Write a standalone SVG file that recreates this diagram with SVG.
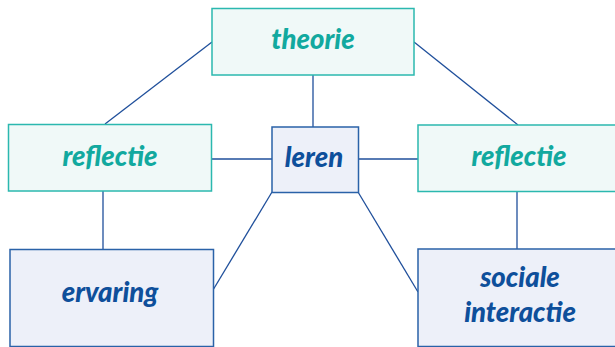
<svg xmlns="http://www.w3.org/2000/svg" width="615" height="347" viewBox="0 0 615 347">
<style>
.t{fill:#f0f9f8;stroke:#2bb8af;stroke-width:1.5}
.b{fill:#edf0f9;stroke:#2a62a8;stroke-width:1.5}
.tt{fill:#12a99f}
.bt{fill:#0e4f9b}
text{font-family:Lato,"Open Sans",sans-serif;font-weight:900;font-style:italic;font-size:27.5px;text-anchor:middle}
#connectors line{stroke:#1f4f9b;stroke-width:1.3}
</style>
<rect width="615" height="347" fill="#ffffff"/>
<g id="connectors">
<line x1="313" y1="75" x2="313" y2="127"/>
<line x1="212" y1="42" x2="105" y2="124"/>
<line x1="414" y1="42" x2="518" y2="125"/>
<line x1="211" y1="159" x2="272" y2="159"/>
<line x1="359" y1="159" x2="418" y2="159"/>
<line x1="103" y1="191" x2="103" y2="249"/>
<line x1="517" y1="192" x2="517" y2="249"/>
<line x1="272" y1="192" x2="213" y2="290"/>
<line x1="358" y1="192" x2="418" y2="292"/>
</g>
<g id="theorie"><rect class="t" x="212" y="8.5" width="202" height="66.5"/><text class="tt" x="313" y="49">theorie</text></g>
<g id="reflectie-left"><rect class="t" x="8.5" y="124.5" width="203" height="66.5"/><text class="tt" x="110" y="166">reflectie</text></g>
<g id="leren"><rect class="b" x="272" y="127" width="86.5" height="65.5"/><text class="bt" x="314" y="167">leren</text></g>
<g id="reflectie-right"><rect class="t" x="418" y="125" width="200" height="66.5"/><text class="tt" x="519" y="166">reflectie</text></g>
<g id="ervaring"><rect class="b" x="10" y="249.5" width="203.5" height="97"/><text class="bt" x="110" y="302">ervaring</text></g>
<g id="sociale-interactie"><rect class="b" x="418" y="249" width="200" height="97.5"/><text class="bt" x="520" y="287">sociale</text><text class="bt" x="520" y="322">interactie</text></g>
</svg>
